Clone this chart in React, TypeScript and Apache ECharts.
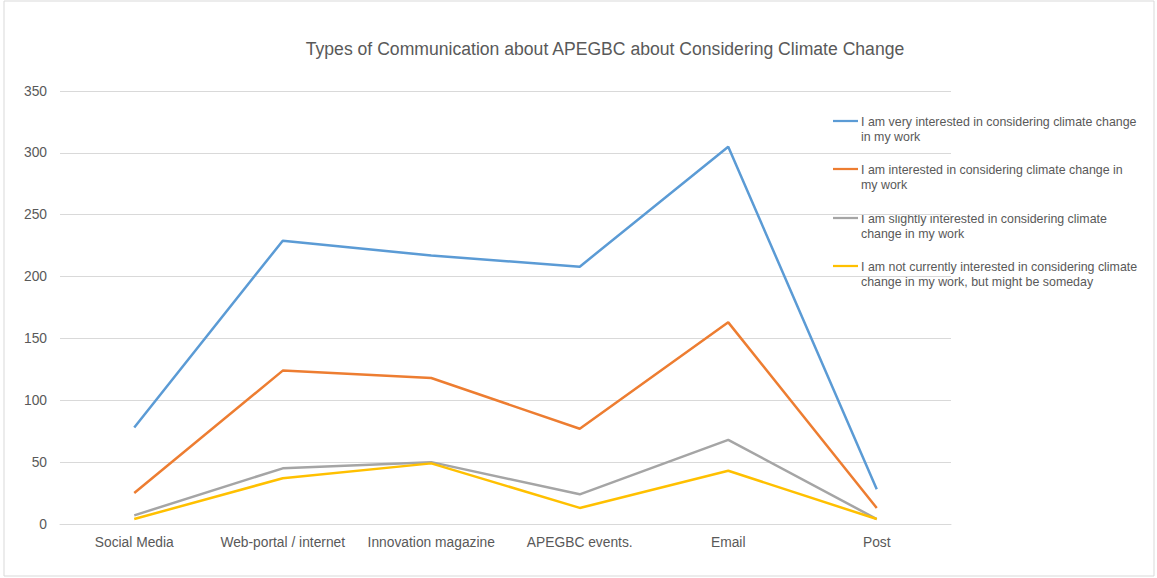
import React, { useEffect, useRef } from "react";
import * as echarts from "echarts";

const categories = ["Social Media", "Web-portal / internet", "Innovation magazine", "APEGBC events.", "Email", "Post"];
const veryInterested = [78, 229, 217, 208, 305, 28];
const interested = [25, 124, 118, 77, 163, 13];
const slightly = [7, 45, 50, 24, 68, 4];
const notCurrently = [4, 37, 49, 13, 43, 4];
const seriesNames = [
  "I am very interested in considering climate change\nin my work",
  "I am interested in considering climate change in\nmy work",
  "I am slightly interested in considering climate\nchange in my work",
  "I am not currently interested in considering climate\nchange in my work, but might be someday",
];
const seriesData = [veryInterested, interested, slightly, notCurrently];
const colors = ["#5B9BD5", "#ED7D31", "#A5A5A5", "#FFC000"];
const title = "Types of Communication about APEGBC about Considering Climate Change";
const FONT = "'Liberation Sans', Arial, sans-serif";

export default function App() {
  const ref = useRef<HTMLDivElement>(null);
  useEffect(() => {
    const chart = echarts.init(ref.current!, null, { renderer: "svg" });
    const legendTop = [121, 169, 218, 266];
    const graphic: any[] = [
      {
        type: "rect",
        shape: { x: 4, y: 1, width: 1150, height: 575 },
        style: { fill: "none", stroke: "#d9d9d9", lineWidth: 1 },
        silent: true,
      },
    ];
    seriesNames.forEach((n, i) => {
      graphic.push({
        type: "line",
        shape: { x1: 833, y1: legendTop[i], x2: 858, y2: legendTop[i] },
        style: { stroke: colors[i], lineWidth: 2.25 },
      });
      graphic.push({
        type: "text",
        x: 861,
        y: legendTop[i] - 7,
        style: {
          text: n,
          fill: "#595959",
          font: "12.4px " + FONT,
          lineHeight: 15,
        },
      });
    });
    chart.setOption({
      animation: false,
      backgroundColor: "#fff",
      title: {
        text: title,
        left: 600,
        textAlign: "center",
        top: 35,
        textStyle: { color: "#595959", fontSize: 17.6, fontWeight: "normal", fontFamily: FONT },
      },
      grid: { left: 60, right: 206, top: 91, bottom: 54, containLabel: false },
      xAxis: {
        type: "category",
        data: categories,
        boundaryGap: true,
        axisLine: { lineStyle: { color: "#d9d9d9" } },
        axisTick: { show: false },
        axisLabel: { color: "#595959", fontSize: 13.8, margin: 11, interval: 0, fontFamily: FONT },
      },
      yAxis: {
        type: "value",
        min: 0,
        max: 350,
        interval: 50,
        axisLine: { show: false },
        axisTick: { show: false },
        splitLine: { lineStyle: { color: "#d9d9d9" } },
        axisLabel: { color: "#595959", fontSize: 13.8, margin: 13, fontFamily: FONT },
      },
      series: seriesData.map((d, i) => ({
        type: "line",
        name: seriesNames[i],
        data: d,
        symbol: "none",
        lineStyle: { color: colors[i], width: 2.5 },
        itemStyle: { color: colors[i] },
      })),
      graphic,
    });
    return () => chart.dispose();
  }, []);
  return <div ref={ref} style={{ width: 1157, height: 578, position: "absolute", left: 0, top: 0 }} />;
}
